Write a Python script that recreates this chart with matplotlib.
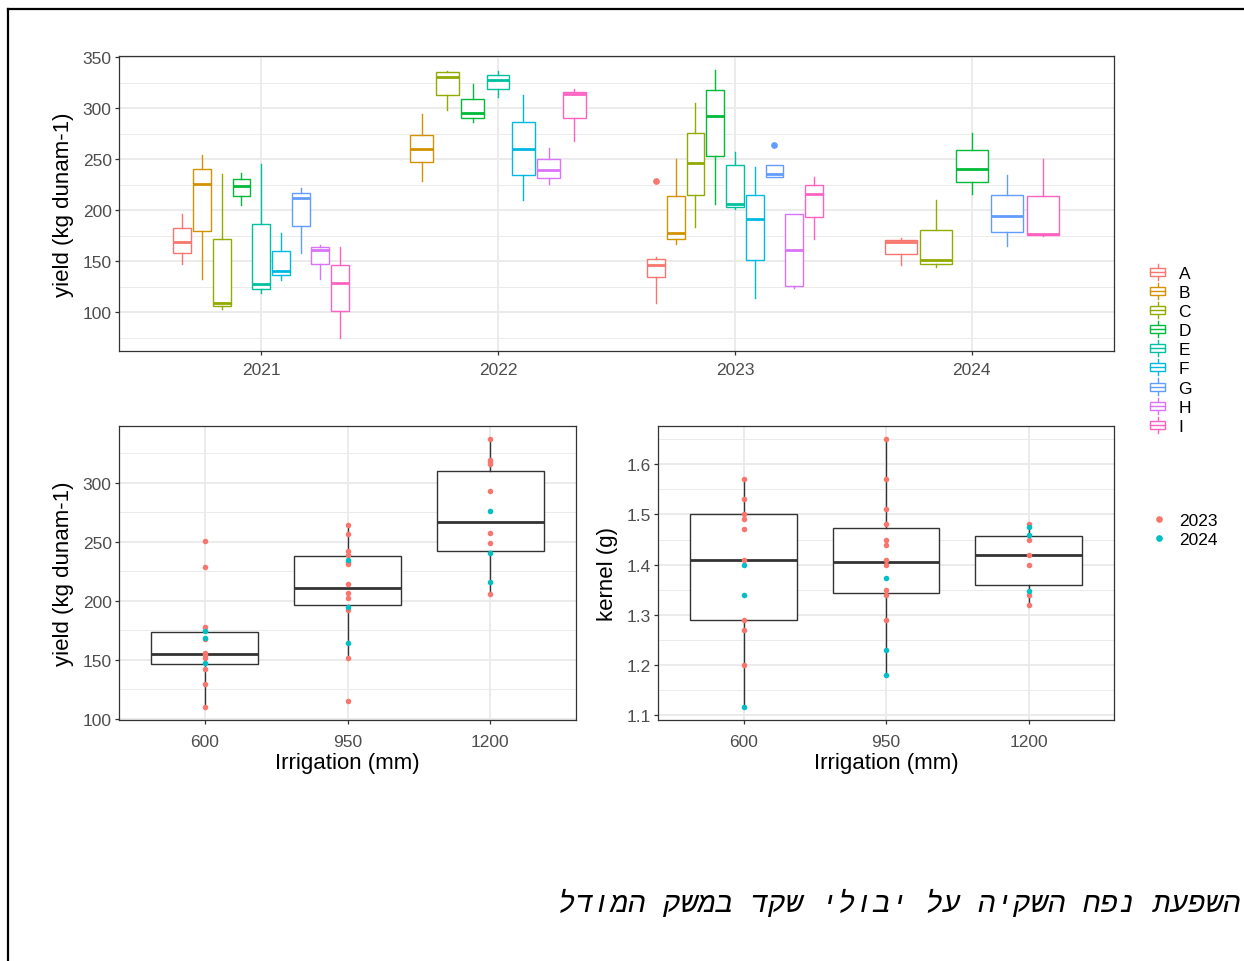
import matplotlib
matplotlib.use("Agg")
import matplotlib.pyplot as plt
from matplotlib.lines import Line2D
from matplotlib.patches import Patch, Rectangle
from matplotlib.legend_handler import HandlerBase

plt.rcParams["font.family"] = ["Liberation Sans", "DejaVu Sans"]

# ---- data: top panel (yield by year and variety) ----
years = ["2021", "2022", "2023", "2024"]
varieties = ["A", "B", "C", "D", "E", "F", "G", "H", "I"]
var_colors = ["#F8766D", "#D39200", "#93AA00", "#00BA38", "#00C19F",
              "#00B9E3", "#619CFF", "#DB72FB", "#FF61C3"]

box_year = ["2021"] * 9 + ["2022"] * 7 + ["2023"] * 9 + ["2024"] * 5
box_var = list("ABCDEFGHI") + list("BCDEFHI") + list("ABCDEFGHI") + list("ACDGI")
box_lo = [147.4, 133.0, 103.0, 204.6, 119.3, 131.7, 157.8, 133.0, 74.5,
          228.4, 298.0, 286.6, 310.8, 209.5, 225.2, 267.6,
          108.8, 166.7, 183.3, 205.9, 201.6, 114.0, 232.1, 123.5, 171.6,
          146.7, 144.1, 215.7, 164.4, 174.8]
box_q1 = [157.8, 179.1, 105.6, 214.1, 123.2, 136.3, 184.6, 147.0, 101.6,
          247.1, 312.4, 290.5, 319.0, 234.3, 231.4, 290.2,
          134.6, 171.9, 214.4, 252.9, 203.3, 150.7, 232.4, 125.5, 193.5,
          157.2, 147.1, 227.8, 178.8, 175.5]
box_med = [168.6, 225.5, 108.8, 223.9, 128.1, 140.8, 212.1, 161.4, 129.1,
           259.8, 330.1, 295.1, 327.8, 259.5, 238.9, 313.7,
           145.8, 177.5, 246.1, 292.5, 206.2, 191.5, 235.0, 161.1, 216.0,
           168.3, 150.7, 240.2, 194.1, 176.5]
box_q3 = [182.4, 240.2, 172.2, 230.4, 186.9, 159.5, 216.7, 163.7, 146.7,
          273.5, 335.6, 309.2, 332.4, 286.3, 250.0, 316.0,
          152.0, 213.7, 275.8, 317.3, 244.4, 214.4, 244.4, 195.8, 224.5,
          170.3, 180.2, 258.5, 214.4, 213.4]
box_hi = [196.4, 254.2, 235.3, 236.3, 245.1, 177.8, 221.2, 166.0, 163.4,
          294.4, 336.3, 323.5, 336.3, 312.4, 260.8, 318.6,
          153.6, 250.0, 304.9, 336.9, 256.5, 241.8, 244.7, 196.4, 232.4,
          172.5, 209.6, 275.8, 234.3, 250.0]
out_year = ["2023", "2023"]
out_var = ["A", "G"]
out_val = [228.1, 264.0]

# ---- data: bottom panels (by irrigation, points by year) ----
irrigation = ["600", "950", "1200"]
year_labels = ["2023", "2024"]
year_colors = ["#F8766D", "#00BFC4"]

yield_2023 = [[250.4, 228.7, 177.7, 167.6, 155.8, 154.1, 151.5, 142.3, 129.3, 109.9],
              [264.2, 256.9, 242.5, 238.6, 232.7, 231.3, 214.6, 207.0, 202.3, 192.1, 151.3, 114.9],
              [337.2, 319.2, 317.5, 315.8, 292.7, 257.7, 248.7, 205.9]]
yield_2024 = [[174.1, 168.7, 147.3], [234.9, 194.4, 164.5], [276.3, 240.6, 216.1]]
yld_lo = [109.9, 151.3, 205.9]
yld_q1 = [146.8, 196.3, 242.5]
yld_med = [154.9, 210.7, 267.0]
yld_q3 = [173.8, 237.7, 310.1]
yld_hi = [177.7, 264.2, 337.2]

kernel_2023 = [[1.57, 1.53, 1.50, 1.49, 1.47, 1.41, 1.29, 1.27, 1.20],
               [1.65, 1.57, 1.51, 1.48, 1.45, 1.44, 1.41, 1.40, 1.35, 1.34, 1.29],
               [1.48, 1.45, 1.42, 1.40, 1.34, 1.32]]
kernel_2024 = [[1.40, 1.34, 1.117], [1.373, 1.23, 1.18], [1.474, 1.459, 1.347]]
ker_lo = [1.117, 1.181, 1.32]
ker_q1 = [1.29, 1.343, 1.36]
ker_med = [1.41, 1.405, 1.42]
ker_q3 = [1.50, 1.473, 1.457]
ker_hi = [1.57, 1.65, 1.48]

title_he = "השפעת נפח השקיה על יבולי שקד במשק המודל"

GRID = "#EBEBEB"
TICK = "#4D4D4D"
BORDER = "#333333"
W, H = 1244, 962


def style_axes(ax, xpad):
    ax.set_axisbelow(True)
    for s in ax.spines.values():
        s.set_color(BORDER)
        s.set_linewidth(0.9)
    ax.grid(which="major", color=GRID, lw=1.4)
    ax.grid(which="minor", axis="y", color=GRID, lw=0.7)
    ax.tick_params(which="major", length=2.75, width=0.9, color=BORDER,
                   labelcolor=TICK, labelsize=12.5, pad=2.5)
    ax.tick_params(axis="x", which="major", pad=xpad)
    ax.tick_params(which="minor", length=0)


def axes_rect(x0, y0, x1, y1):
    return [x0 / W, 1 - y1 / H, (x1 - x0) / W, (y1 - y0) / H]


class BoxHandler(HandlerBase):
    def create_artists(self, legend, orig_handle, xdescent, ydescent,
                       width, height, fontsize, trans):
        c = orig_handle.get_edgecolor()
        cx = width / 2 - xdescent
        cy = height / 2 - ydescent
        bw, bh = width * 0.9, height * 0.6
        box = Rectangle((cx - bw / 2, cy - bh / 2), bw, bh, facecolor="white",
                        edgecolor=c, lw=1.0, transform=trans)
        med = Line2D([cx - bw / 2, cx + bw / 2], [cy, cy], color=c, lw=1.0, transform=trans)
        w1 = Line2D([cx, cx], [cy + bh / 2, height - ydescent + 1], color=c, lw=1.0, transform=trans)
        w2 = Line2D([cx, cx], [cy - bh / 2, -ydescent - 1], color=c, lw=1.0, transform=trans)
        return [w1, w2, box, med]


fig = plt.figure(figsize=(12.44, 9.62), dpi=100)

# ---- top panel ----
ax = fig.add_axes(axes_rect(119, 57, 1114, 352))
style_axes(ax, 5.0)
pos, wid, stats, cols = [], [], [], []
for i, yr in enumerate(years):
    idx = [k for k in range(len(box_year)) if box_year[k] == yr]
    n = len(idx)
    for j, k in enumerate(idx):
        pos.append(i + 1 - 0.375 + (j + 0.5) * 0.75 / n)
        wid.append(0.9 * 0.75 / n)
        fl = [out_val[m] for m in range(len(out_val))
              if out_year[m] == yr and out_var[m] == box_var[k]]
        stats.append(dict(whislo=box_lo[k], q1=box_q1[k], med=box_med[k],
                          q3=box_q3[k], whishi=box_hi[k], fliers=fl))
        cols.append(var_colors[varieties.index(box_var[k])])
art = ax.bxp(stats, positions=pos, widths=wid, showcaps=False, patch_artist=True,
             manage_ticks=False)
for k, c in enumerate(cols):
    art["boxes"][k].set(facecolor="white", edgecolor=c, lw=1.0)
    art["medians"][k].set(color=c, lw=2.0)
    for w in art["whiskers"][2 * k:2 * k + 2]:
        w.set(color=c, lw=1.0)
    art["fliers"][k].set(marker="o", markerfacecolor=c, markeredgecolor=c,
                         markersize=3.8)
ax.set_xlim(0.4, 4.6)
ax.set_ylim(62, 351)
ax.set_xticks(range(1, 5), years)
ax.set_yticks([100, 150, 200, 250, 300, 350])
ax.set_yticks([75, 125, 175, 225, 275, 325], minor=True)
ax.set_ylabel("yield (kg dunam-1)", fontsize=16, va="center")
ax.yaxis.set_label_coords((63 - 119) / 995, 0.5)

handles = [Patch(facecolor="white", edgecolor=c) for c in var_colors]
fig.legend(handles, varieties, handler_map={Patch: BoxHandler()},
           loc="upper left", bbox_to_anchor=(1149 / W, 1 - 266 / H),
           frameon=False, fontsize=12.5, handlelength=1.0, handleheight=0.8,
           handletextpad=0.7, labelspacing=0.2, borderpad=0, borderaxespad=0)


# ---- bottom panels ----
def bottom_panel(rect, lo, q1, med, q3, hi, p23, p24, ylim, yt, ytm, ylabel, lab_x):
    a = fig.add_axes(rect)
    style_axes(a, 7.0)
    st = [dict(whislo=lo[i], q1=q1[i], med=med[i], q3=q3[i], whishi=hi[i], fliers=[])
          for i in range(3)]
    bp = a.bxp(st, positions=[1, 2, 3], widths=0.75, showcaps=False, patch_artist=True,
               manage_ticks=False)
    for b in bp["boxes"]:
        b.set(facecolor="white", edgecolor=BORDER, lw=1.0)
    for m in bp["medians"]:
        m.set(color=BORDER, lw=2.0)
    for w in bp["whiskers"]:
        w.set(color=BORDER, lw=1.0)
    for pts, c in ((p23, year_colors[0]), (p24, year_colors[1])):
        for i in range(3):
            a.scatter([i + 1] * len(pts[i]), pts[i], s=16, color=c, lw=0, zorder=3)
    a.set_xlim(0.4, 3.6)
    a.set_ylim(*ylim)
    a.set_xticks([1, 2, 3], irrigation)
    a.set_yticks(yt)
    a.set_yticks(ytm, minor=True)
    a.set_xlabel("Irrigation (mm)", fontsize=16, va="center")
    a.xaxis.set_label_coords(0.5, (721 - 764) / 294)
    a.set_ylabel(ylabel, fontsize=16, va="center")
    a.yaxis.set_label_coords(lab_x, 0.5)
    return a


bottom_panel(axes_rect(119, 427, 576, 721), yld_lo, yld_q1, yld_med, yld_q3, yld_hi,
             yield_2023, yield_2024, (98.9, 348.2), [100, 150, 200, 250, 300],
             [125, 175, 225, 275, 325], "yield (kg dunam-1)", (63 - 119) / 457)
ax3 = bottom_panel(axes_rect(658, 427, 1114, 721), ker_lo, ker_q1, ker_med, ker_q3, ker_hi,
                   kernel_2023, kernel_2024, (1.0907, 1.676), [1.1, 1.2, 1.3, 1.4, 1.5, 1.6],
                   [1.15, 1.25, 1.35, 1.45, 1.55, 1.65], "kernel (g)", (607 - 658) / 456)
ax3.yaxis.set_major_formatter(matplotlib.ticker.FormatStrFormatter("%.1f"))

yh = [Line2D([], [], ls="", marker="o", markersize=3.8, color=c) for c in year_colors]
fig.legend(yh, year_labels, loc="upper left", bbox_to_anchor=(1150 / W, 1 - 514 / H),
           frameon=False, fontsize=12.5, handlelength=1.0, handletextpad=0.7,
           labelspacing=0.2, borderpad=0, borderaxespad=0)

# ---- frame and Hebrew caption ----
fig.add_artist(Line2D([8 / W, 8 / W], [0, 1 - 10 / H], color="black", lw=1.6))
fig.add_artist(Line2D([8 / W, 1], [1 - 10 / H, 1 - 10 / H], color="black", lw=1.6))
# matplotlib lays text out left to right, so reverse for right-to-left display
fig.text(1240 / W, 1 - 904 / H, title_he[::-1], ha="right", va="center",
         family=["DejaVu Sans Mono", "Liberation Mono"], style="oblique", fontsize=21)

plt.savefig("out.png", dpi=100)
